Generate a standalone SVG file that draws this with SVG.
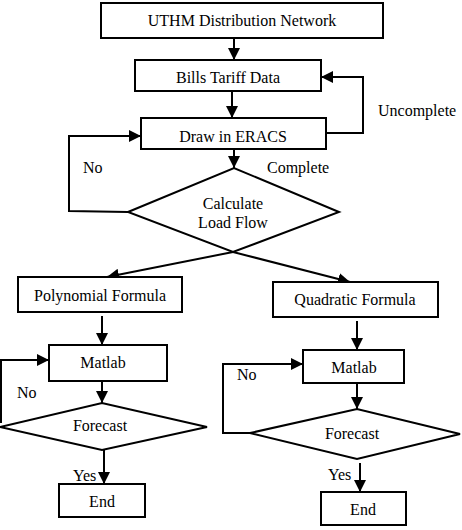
<svg xmlns="http://www.w3.org/2000/svg" width="462" height="530" viewBox="0 0 462 530" font-family="'Liberation Serif', 'Times New Roman', Times, serif" font-size="16">
<style>
.box{fill:#fff;stroke:#000;stroke-width:2}
.ln{fill:none;stroke:#000;stroke-width:2}
text{fill:#000}
.c{text-anchor:middle}
</style>
<defs>
<marker id="ah" markerUnits="userSpaceOnUse" markerWidth="12" markerHeight="12" refX="12" refY="6" orient="auto">
<path d="M0,0 L12,6 L0,12 z" fill="#000"/>
</marker>
</defs>
<rect width="462" height="530" fill="#fff"/>
<g id="connectors">
<line class="ln" x1="234" y1="38" x2="234" y2="60" marker-end="url(#ah)"/>
<line class="ln" x1="232" y1="91" x2="232" y2="118" marker-end="url(#ah)"/>
<polyline class="ln" points="326,133 363,133 363,77 321,77" marker-end="url(#ah)"/>
<line class="ln" x1="234" y1="149" x2="234" y2="168" marker-end="url(#ah)"/>
<polyline class="ln" points="128,212 69,211 69,136 141,136" marker-end="url(#ah)"/>
<line class="ln" x1="233" y1="252" x2="107" y2="277" marker-end="url(#ah)"/>
<line class="ln" x1="233" y1="252" x2="350" y2="282" marker-end="url(#ah)"/>
<line class="ln" x1="102" y1="316" x2="102" y2="345" marker-end="url(#ah)"/>
<line class="ln" x1="357" y1="321" x2="357" y2="350" marker-end="url(#ah)"/>
<polyline class="ln" points="1,423 1,360 49,360" marker-end="url(#ah)"/>
<line class="ln" x1="102" y1="381" x2="102" y2="403" marker-end="url(#ah)"/>
<line class="ln" x1="104" y1="450" x2="104" y2="484" marker-end="url(#ah)"/>
<polyline class="ln" points="250,433 223,433 223,364 303,364" marker-end="url(#ah)"/>
<line class="ln" x1="357" y1="383" x2="357" y2="409" marker-end="url(#ah)"/>
<line class="ln" x1="360" y1="463" x2="360" y2="492" marker-end="url(#ah)"/>
</g>
<g id="labels">
<text x="378" y="116">Uncomplete</text>
<text x="83" y="173">No</text>
<text x="267" y="173">Complete</text>
<text x="17" y="398">No</text>
<text x="237" y="380">No</text>
<text x="73" y="481">Yes</text>
<text x="328" y="480">Yes</text>
</g>
<g id="uthm"><rect class="box" x="101" y="3" width="282" height="35"/><text class="c" x="242" y="26">UTHM Distribution Network</text></g>
<g id="bills"><rect class="box" x="135" y="60" width="186" height="31"/><text class="c" x="228" y="83">Bills Tariff Data</text></g>
<g id="draw"><rect class="box" x="141" y="118" width="185" height="31"/><text class="c" x="233" y="142">Draw in ERACS</text></g>
<g id="calc"><polygon class="box" points="128,212 234,168 339,212 233,252"/><text class="c" x="233" y="209">Calculate</text><text class="c" x="233" y="228">Load Flow</text></g>
<g id="poly"><rect class="box" x="18" y="277" width="164" height="35"/><text class="c" x="100" y="301">Polynomial Formula</text></g>
<g id="quad"><rect class="box" x="273" y="282" width="165" height="35"/><text class="c" x="355" y="305">Quadratic Formula</text></g>
<g id="matlabL"><rect class="box" x="49" y="345" width="118" height="36"/><text class="c" x="103" y="368">Matlab</text></g>
<g id="matlabR"><rect class="box" x="303" y="350" width="101" height="33"/><text class="c" x="354" y="373">Matlab</text></g>
<g id="forecastL"><polygon class="box" points="0,427 102,403 207,427 102,450"/><text class="c" x="100" y="431">Forecast</text></g>
<g id="forecastR"><polygon class="box" points="250,433 357,409 460,434 357,459"/><text class="c" x="352" y="439">Forecast</text></g>
<g id="endL"><rect class="box" x="59" y="484" width="86" height="33"/><text class="c" x="102" y="507">End</text></g>
<g id="endR"><rect class="box" x="321" y="492" width="85" height="33"/><text class="c" x="363" y="515">End</text></g>
</svg>
